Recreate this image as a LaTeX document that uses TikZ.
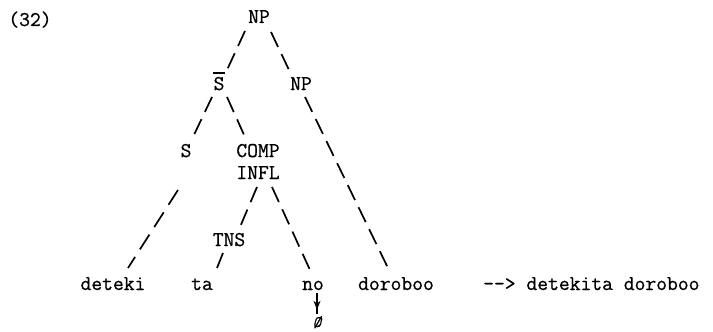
\documentclass[tikz,border=0pt]{standalone}
\usepackage{fontspec}
\setmonofont{Latin Modern Mono}[FakeBold=0.7]
\usetikzlibrary{arrows.meta,decorations.markings}
\begin{document}
\begin{tikzpicture}[x=1pt,y=-1pt,
  lbl/.style={font=\ttfamily\fontsize{21}{24}\selectfont, inner sep=0pt, anchor=base},
  br/.style={line width=1.7pt, dash pattern=on 16.5pt off 8pt},
  brlong/.style={line width=1.7pt, dash pattern=on 17.5pt off 9pt},
  arr/.style={line width=1.2pt, decoration={markings, mark=at position 0.8 with {\arrow{Stealth[length=9pt,width=7pt]}}}, postaction={decorate}},
]
\useasboundingbox (0,0) rectangle (713,332);
% labels
\node[lbl] (num) at (30,26) {(32)};
\node[lbl] (np1) at (259,23) {NP};
\node[lbl] (sbar) at (219,90) {S};
\node[lbl] (np2) at (301,90) {NP};
\node[lbl] (s) at (186,157) {S};
\node[lbl] (comp) at (258,157) {COMP};
\node[lbl] (infl) at (258,179) {INFL};
\node[lbl] (tns) at (229,246) {TNS};
\node[lbl] (deteki) at (113,290) {deteki};
\node[lbl] (ta) at (202,290) {ta};
\node[lbl] (no) at (313,290) {no};
\node[lbl] (doroboo) at (396,290) {doroboo};
\node[lbl, anchor=base west] (res) at (483,290) {-{}-> detekita doroboo};
\node[lbl] (empty) at (317,327) {\fontsize{16}{16}\selectfont\itshape\O};
% bar over S
\draw[line width=1.8pt] ([shift={(-6,-17)}]sbar.base) -- ([shift={(6,-17)}]sbar.base);
% branches
\draw[br] ([shift={(-14,8)}]np1.base) -- ([shift={(8,-20)}]sbar.base);
\draw[br] ([shift={(12,9)}]np1.base) -- ([shift={(-12,-20)}]np2.base);
\draw[br] ([shift={(-7,7)}]sbar.base) -- ([shift={(7,-20)}]s.base);
\draw[br] ([shift={(8,7)}]sbar.base) -- ([shift={(-13,-20)}]comp.base);
\draw[br] ([shift={(4,7)}]np2.base) -- ([shift={(-8,-22)}]doroboo.base);
\draw[brlong] ([shift={(-8,33)}]s.base) -- ([shift={(15,-22)}]deteki.base);
\draw[br] ([shift={(-1,8)}]infl.base) -- ([shift={(11,-19)}]tns.base);
\draw[br] ([shift={(14,8)}]infl.base) -- ([shift={(-3,-20)}]no.base);
\draw[br] ([shift={(-6,7)}]tns.base) -- ([shift={(15,-22)}]ta.base);
% arrow to empty
\draw[arr] ([shift={(4,3)}]no.base) -- ([shift={(0,-13)}]empty.base);
\end{tikzpicture}
\end{document}
